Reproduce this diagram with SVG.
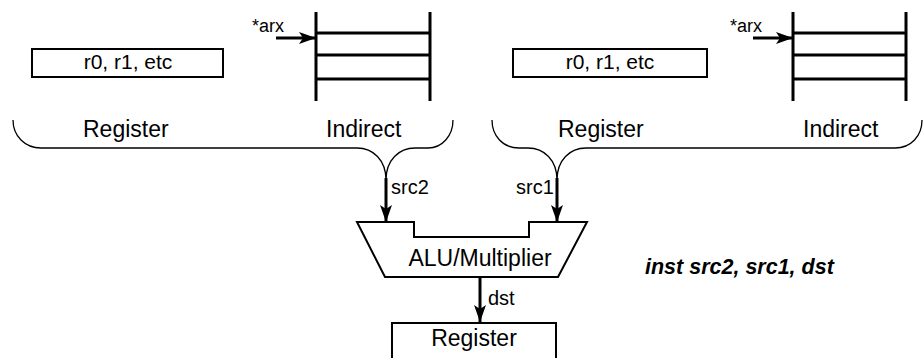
<svg xmlns="http://www.w3.org/2000/svg" width="923" height="358" viewBox="0 0 923 358">
<style>
text{font-family:"Liberation Sans",Arial,sans-serif;fill:#000}
.box{fill:#fff;stroke:#000;stroke-width:2}
.thick{stroke:#000;stroke-width:3;fill:none}
.brace{stroke:#000;stroke-width:1.3;fill:none}
.lbl{font-size:23px}
.small{font-size:18px}
.mid{font-size:20px}
.reg{font-size:21px}
</style>
<defs>
<marker id="ah" markerUnits="userSpaceOnUse" markerWidth="18" markerHeight="14" refX="17" refY="7" orient="auto">
<path d="M0,1 L17,7 L0,13 L4,7 Z" fill="#000"/>
</marker>
</defs>

<g id="reg-left">
<rect class="box" x="32" y="49" width="191" height="28"/>
<text x="128" y="69" text-anchor="middle" class="reg">r0, r1, etc</text>
</g>
<g id="ind-left">
<path class="thick" d="M316,12 V101 M430,12 V101 M316,33 H430 M316,55 H430 M316,79 H430"/>
<text x="252" y="32" class="small">*arx</text>
</g>
<g id="brace-left">
<path class="brace" d="M13,120 C13,136 25,148 41,148 H357 C373,148 386,160 386,180 C386,160 399,148 415,148 H428 C442,148 453,136 453,120"/>
<text x="83" y="137" class="lbl">Register</text>
<text x="326" y="137" class="lbl">Indirect</text>
</g>

<g id="reg-right">
<rect class="box" x="513" y="49" width="194" height="28"/>
<text x="610" y="69" text-anchor="middle" class="reg">r0, r1, etc</text>
</g>
<g id="ind-right">
<path class="thick" d="M793,12 V101 M906,12 V101 M793,33 H906 M793,55 H906 M793,79 H906"/>
<text x="730" y="32" class="small">*arx</text>
</g>
<g id="brace-right">
<path class="brace" d="M492,120 C492,136 503,148 519,148 H528 C544,148 557,160 557,180 C557,160 570,148 586,148 H895 C911,148 922,136 922,120"/>
<text x="558" y="137" class="lbl">Register</text>
<text x="803" y="137" class="lbl">Indirect</text>
</g>

<g id="alu">
<path class="box" d="M357,222 H414 V237 H529 V222 H587 L558,277 H385 Z"/>
<text x="480" y="266" text-anchor="middle" class="lbl">ALU/Multiplier</text>
</g>

<g id="reg-out">
<rect class="box" x="392" y="323" width="164" height="40"/>
<text x="474" y="346" text-anchor="middle" class="lbl">Register</text>
</g>

<g id="instr">
<text x="645" y="274" font-size="21.5" font-weight="bold" font-style="italic">inst src2, src1, dst</text>
</g>

<g id="connectors">
<line class="thick" x1="276" y1="38" x2="316" y2="38" marker-end="url(#ah)"/>
<line class="thick" x1="753" y1="38" x2="793" y2="38" marker-end="url(#ah)"/>
<line class="thick" x1="386" y1="178" x2="386" y2="222" marker-end="url(#ah)"/>
<line class="thick" x1="557" y1="178" x2="557" y2="222" marker-end="url(#ah)"/>
<line class="thick" x1="480" y1="277" x2="480" y2="322" marker-end="url(#ah)"/>
<text x="391" y="194" class="mid">src2</text>
<text x="516" y="194" class="mid">src1</text>
<text x="488" y="305" class="mid">dst</text>
</g>
</svg>
